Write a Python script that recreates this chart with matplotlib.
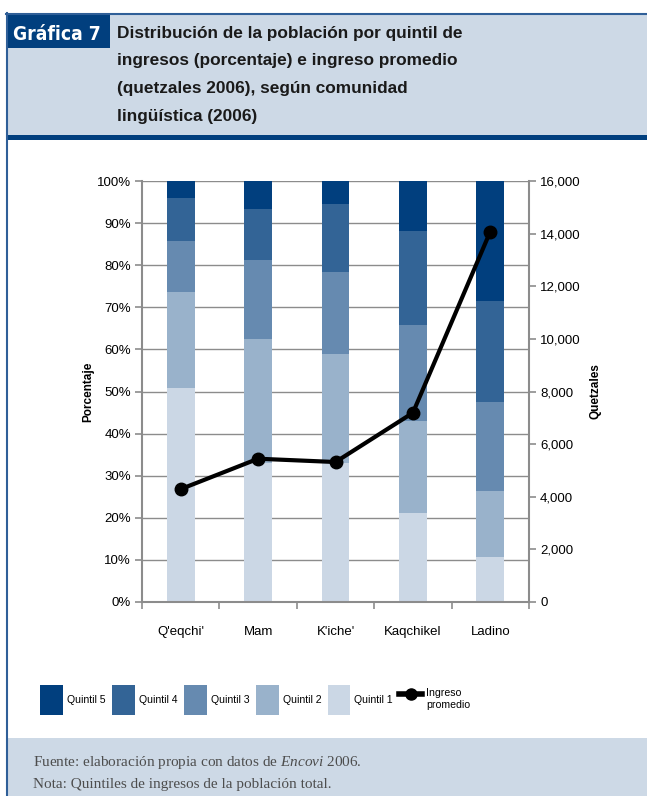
import matplotlib
matplotlib.use("Agg")
import matplotlib.pyplot as plt
from matplotlib.patches import Rectangle, Patch
from matplotlib.lines import Line2D
from matplotlib.ticker import FuncFormatter, FixedLocator
import numpy as np

plt.rcParams['font.family'] = ['Liberation Sans', 'DejaVu Sans']
plt.rcParams['mathtext.fontset'] = 'custom'
plt.rcParams['mathtext.rm'] = 'Liberation Serif'
plt.rcParams['mathtext.it'] = 'Liberation Serif:italic'

# Data: share of population by income quintile (%) and mean income (quetzales 2006)
communities = ["Q'eqchi'", "Mam", "K'iche'", "Kaqchikel", "Ladino"]
quintil_1 = [50.8, 33.1, 33.1, 21.2, 10.7]
quintil_2 = [22.8, 29.4, 25.8, 21.8, 15.7]
quintil_3 = [12.1, 18.7, 19.5, 22.8, 21.2]
quintil_4 = [10.3, 12.1, 16.1, 22.3, 23.9]
quintil_5 = [4.0, 6.7, 5.5, 11.9, 28.5]
ingreso_promedio = [4290, 5445, 5320, 7190, 14080]

quintiles = [quintil_1, quintil_2, quintil_3, quintil_4, quintil_5]
q_labels = ["Quintil 1", "Quintil 2", "Quintil 3", "Quintil 4", "Quintil 5"]
q_colors = ["#cbd7e5", "#99b2cb", "#668ab0", "#336496", "#013f7e"]

title_lines = [
    "Distribución de la población por quintil de",
    "ingresos (porcentaje) e ingreso promedio",
    "(quetzales 2006), según comunidad",
    "lingüística (2006)",
]

W, H = 647, 796
fig = plt.figure(figsize=(W / 100, H / 100), dpi=100)


def fx(px):
    return px / W


def fy(py):
    return 1 - py / H


def rect(x0, y0, x1, y1, color, z=0):
    fig.add_artist(Rectangle((fx(x0), fy(y1)), fx(x1) - fx(x0), fy(y0) - fy(y1),
                             transform=fig.transFigure, facecolor=color,
                             edgecolor='none', zorder=z))


# Frame: header band, title tag, footer band
header_bg = "#cdd9e6"
navy = "#013f7e"
rect(6, 14, W, 135, header_bg)
rect(6, 135, W, 140, navy)
rect(6, 14, 110, 48, navy, z=1)
rect(6, 738, W, H, header_bg)
fig.add_artist(Line2D([fx(6.5), fx(6.5)], [fy(13), fy(H)], transform=fig.transFigure,
                      color="#2f5f98", lw=1.5))
fig.add_artist(Line2D([fx(6), fx(W)], [fy(13.5), fy(13.5)], transform=fig.transFigure,
                      color="#2f5f98", lw=1.5))

fig.text(fx(57), fy(39.5), "Gráfica 7", ha='center', va='baseline', color='white',
         fontsize=13.8, fontweight='bold', fontstretch='condensed',
         family=['DejaVu Sans', 'Liberation Sans'], zorder=2)
for i, line in enumerate(title_lines):
    fig.text(fx(117), fy(38 + 27.5 * i), line, ha='left', va='baseline',
             fontsize=12.4, fontweight='bold', color='#1a1a1a')

# Chart axes
ax = fig.add_axes([fx(142), fy(602), fx(529) - fx(142), fy(181) - fy(602)])
x = np.arange(len(communities))
bottom = np.zeros(len(communities))
for vals, lab, col in zip(quintiles, q_labels, q_colors):
    ax.bar(x, vals, width=0.36, bottom=bottom, color=col, label=lab, zorder=2)
    bottom += np.array(vals)

ax.set_xlim(-0.5, len(communities) - 0.5)
ax.set_ylim(0, 100)
ax.set_yticks(np.arange(0, 101, 10))
ax.yaxis.set_major_formatter(FuncFormatter(lambda v, p: f"{int(v)}%"))
ax.grid(axis='y', color='#8c8c8c', lw=1.0, zorder=0)
ax.set_axisbelow(True)

ax.set_xticks(x)
ax.set_xticklabels(communities)
ax.xaxis.set_minor_locator(FixedLocator(np.arange(-0.5, len(communities), 1.0)))
ax.tick_params(axis='x', which='major', length=0, pad=17, labelsize=9.5)
ax.tick_params(axis='x', which='minor', length=5, width=1.2, color='#8c8c8c', direction='out')
ax.tick_params(axis='y', length=5, width=1.2, color='#8c8c8c', labelsize=9.5, pad=3)

for side in ['top', 'right']:
    ax.spines[side].set_visible(False)
for side in ['left', 'bottom']:
    ax.spines[side].set_color('#8c8c8c')
    ax.spines[side].set_linewidth(1.5)

ax.set_ylabel("Porcentaje", fontsize=8.5, fontweight='bold', labelpad=2)

ax2 = ax.twinx()
ax2.plot(x, ingreso_promedio, color='black', lw=3, marker='o', markersize=9,
         label='Ingreso\npromedio', zorder=5)
ax2.set_ylim(0, 16000)
ax2.set_yticks(np.arange(0, 16001, 2000))
ax2.yaxis.set_major_formatter(FuncFormatter(lambda v, p: f"{int(v):,}"))
ax2.tick_params(axis='y', length=5, width=1.2, color='#8c8c8c', labelsize=9.5, pad=3)
for side in ['top', 'left', 'bottom']:
    ax2.spines[side].set_visible(False)
ax2.spines['right'].set_color('#8c8c8c')
ax2.spines['right'].set_linewidth(1.5)
ax2.set_ylabel("Quetzales", fontsize=8.5, fontweight='bold', labelpad=6)

# Legend
handles = [Patch(facecolor=c, edgecolor='none') for c in q_colors[::-1]]
labels = q_labels[::-1]
handles.append(Line2D([0], [0], color='black', lw=4, marker='o', markersize=8))
labels.append("Ingreso\npromedio")
fig.legend(handles, labels, loc='center left', bbox_to_anchor=(fx(40), fy(700)),
           ncol=6, frameon=False, fontsize=7.6, handlelength=2.17, handleheight=3.85,
           handletextpad=0.38, columnspacing=0.6, borderaxespad=0, borderpad=0)

# Footer notes
footer_kw = dict(ha='left', va='baseline', fontsize=11, color='#4d4d4d',
                 family=['Liberation Serif', 'DejaVu Serif'])
fig.text(fx(33), fy(766), "Fuente: elaboración propia con datos de $\\mathit{Encovi}$ 2006.",
         **footer_kw)
fig.text(fx(33), fy(788), "Nota: Quintiles de ingresos de la población total.", **footer_kw)

fig.savefig("out.png", dpi=100)
